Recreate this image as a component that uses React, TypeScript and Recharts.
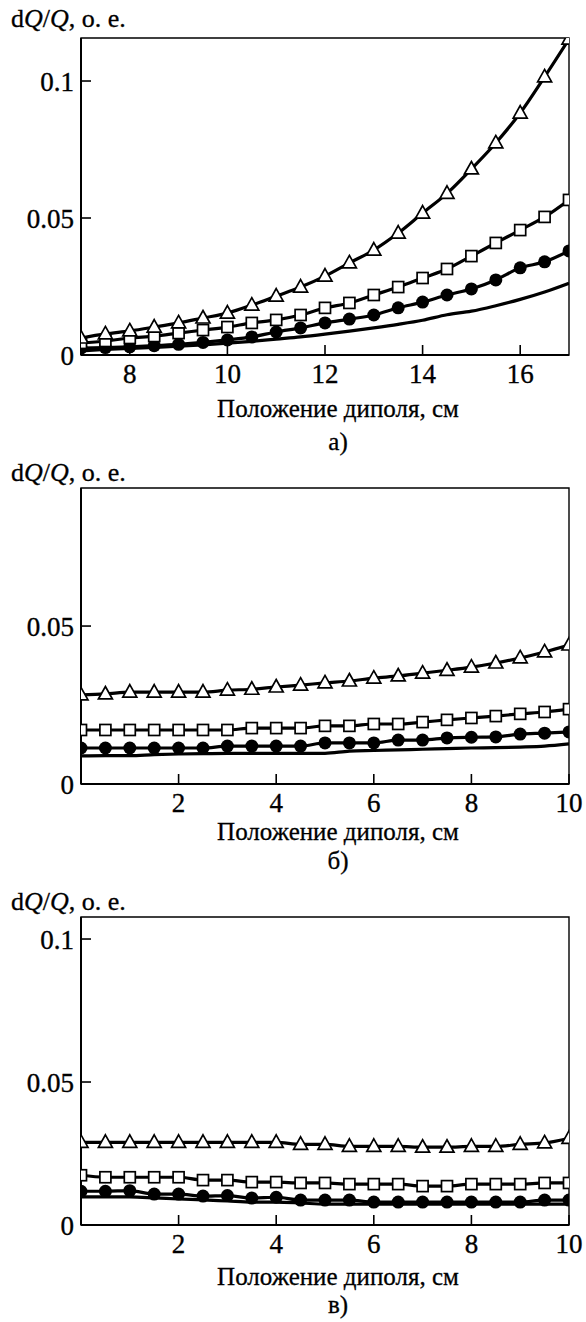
import React from 'react';
import { LineChart, Line, XAxis, YAxis, ReferenceArea } from 'recharts';

// dipole positions, cm
const X_A = [7, 7.5, 8, 8.5, 9, 9.5, 10, 10.5, 11, 11.5, 12, 12.5, 13, 13.5, 14, 14.5, 15, 15.5, 16, 16.5, 17];
const X_BC = [0, 0.5, 1, 1.5, 2, 2.5, 3, 3.5, 4, 4.5, 5, 5.5, 6, 6.5, 7, 7.5, 8, 8.5, 9, 9.5, 10];

// panel a)
const A_TRI = [0.0062, 0.0077, 0.0088, 0.0102, 0.0117, 0.0135, 0.0153, 0.0182, 0.0215, 0.0248, 0.0288, 0.0336, 0.0383, 0.0445, 0.0518, 0.059, 0.0679, 0.0774, 0.0883, 0.1015, 0.1153];
const A_SQ = [0.0044, 0.0051, 0.0062, 0.0069, 0.008, 0.0091, 0.0102, 0.0117, 0.0128, 0.0146, 0.0172, 0.019, 0.0219, 0.0248, 0.0281, 0.0314, 0.0361, 0.0409, 0.0456, 0.0504, 0.0566];
const A_DOT = [0.0025, 0.0027, 0.003, 0.0034, 0.0039, 0.0046, 0.0055, 0.0066, 0.0084, 0.0099, 0.0117, 0.0131, 0.0146, 0.0172, 0.0193, 0.0219, 0.0241, 0.0274, 0.0318, 0.034, 0.038];
const A_LINE = [0.0015, 0.002, 0.0024, 0.0028, 0.0032, 0.0037, 0.0043, 0.005, 0.0058, 0.0066, 0.0076, 0.0087, 0.0099, 0.0112, 0.0127, 0.0147, 0.016, 0.018, 0.0203, 0.023, 0.0262];

// panel б)
const B_TRI = [0.0282, 0.0285, 0.0291, 0.0291, 0.0291, 0.0291, 0.0297, 0.03, 0.0307, 0.0313, 0.032, 0.0326, 0.0335, 0.0342, 0.0351, 0.036, 0.037, 0.0383, 0.0399, 0.0418, 0.044];
const B_SQ = [0.0171, 0.0171, 0.0171, 0.0171, 0.0171, 0.0171, 0.0171, 0.0177, 0.0177, 0.0177, 0.0184, 0.0184, 0.019, 0.019, 0.0196, 0.0203, 0.0209, 0.0215, 0.0222, 0.0228, 0.0237];
const B_DOT = [0.0114, 0.0114, 0.0114, 0.0114, 0.0114, 0.0114, 0.012, 0.012, 0.012, 0.012, 0.013, 0.013, 0.013, 0.0139, 0.0139, 0.0146, 0.0148, 0.0149, 0.0158, 0.0161, 0.0165];
const B_LINE = [0.0089, 0.009, 0.009, 0.0093, 0.0095, 0.0096, 0.0097, 0.0097, 0.0097, 0.0097, 0.0097, 0.0104, 0.0106, 0.0108, 0.011, 0.0112, 0.0114, 0.0115, 0.0117, 0.012, 0.0127];

// panel в)
const C_TRI = [0.0289, 0.0289, 0.0289, 0.0289, 0.0289, 0.0289, 0.0289, 0.0289, 0.0289, 0.0282, 0.0282, 0.0275, 0.0275, 0.0275, 0.0272, 0.0272, 0.0275, 0.0275, 0.0282, 0.0287, 0.0303];
const C_SQ = [0.0174, 0.0167, 0.0167, 0.0167, 0.0167, 0.0157, 0.0157, 0.015, 0.015, 0.0147, 0.0147, 0.0143, 0.0143, 0.0143, 0.0136, 0.0136, 0.0143, 0.0143, 0.0143, 0.0147, 0.0147];
const C_DOT = [0.0118, 0.0118, 0.012, 0.0108, 0.0108, 0.0101, 0.0103, 0.0094, 0.0097, 0.0087, 0.0087, 0.0087, 0.008, 0.008, 0.008, 0.008, 0.008, 0.008, 0.008, 0.0087, 0.0087];
const C_LINE = [0.0098, 0.0098, 0.0098, 0.0095, 0.0091, 0.0088, 0.0084, 0.008, 0.008, 0.0077, 0.0073, 0.0073, 0.0073, 0.0073, 0.0073, 0.0073, 0.0073, 0.0073, 0.0073, 0.0073, 0.0073];

const FONT = 'Liberation Serif';
const W = 586;
const PLOT_LEFT = 81;
const PLOT_RIGHT = 569;

function rows(xs: number[], tri: number[], sq: number[], dot: number[], line: number[]) {
  return xs.map((x, i) => ({ x, tri: tri[i], sq: sq[i], dot: dot[i], line: line[i] }));
}

const triangle = (p: any) => (
  <path key={'t' + p.index} d={`M${p.cx},${p.cy - 7.5} L${p.cx + 7},${p.cy + 5} L${p.cx - 7},${p.cy + 5} Z`}
    fill="#fff" stroke="#000" strokeWidth={1.7} />
);
const square = (p: any) => (
  <rect key={'s' + p.index} x={p.cx - 5.5} y={p.cy - 5.5} width={11} height={11} fill="#fff" stroke="#000" strokeWidth={1.7} />
);
const disc = (p: any) => <circle key={'c' + p.index} cx={p.cx} cy={p.cy} r={6.5} fill="#000" />;

const labelText = { fontFamily: FONT, fontSize: 27, fill: '#000', stroke: '#000', strokeWidth: 0.35 };

function Panel(props: any) {
  const { top, plotTop, plotBottom, data, xDomain, xTicks, yMax, yTicks, titleY, axisTitleY, letterY, letter } = props;
  const H = 400;
  const XTick = (t: any) => (
    <g>
      <line x1={t.x} x2={t.x} y1={t.y} y2={t.y - 10} stroke="#000" strokeWidth={1.6} />
      <text x={t.x} y={t.y + 19} textAnchor="middle" dominantBaseline="central" style={labelText}>
        {t.payload.value}
      </text>
    </g>
  );
  const YTick = (t: any) => (
    <g>
      <line x1={PLOT_LEFT} x2={PLOT_LEFT + 10} y1={t.y} y2={t.y} stroke="#000" strokeWidth={1.6} />
      <text x={PLOT_LEFT - 7} y={t.y + 1} textAnchor="end" dominantBaseline="central" style={labelText}>
        {t.payload.value}
      </text>
    </g>
  );
  const textStyle: React.CSSProperties = {
    position: 'absolute', fontFamily: FONT, fontSize: 25, lineHeight: '28px', whiteSpace: 'nowrap',
    color: '#000', WebkitTextStroke: '0.3px #000',
  };
  return (
    <>
      <div style={{ ...textStyle, fontSize: 26, left: 11, top: titleY - 14 }}>
        d<i>Q</i>/<i>Q</i>, о. е.
      </div>
      <div style={{ position: 'absolute', left: 0, top }}>
        <LineChart width={W} height={H} data={data}
          margin={{ top: plotTop - top, right: W - PLOT_RIGHT, bottom: H - (plotBottom - top) - 30, left: 8 }}>
          <XAxis dataKey="x" type="number" domain={xDomain} ticks={xTicks} allowDataOverflow height={30}
            axisLine={{ stroke: '#000', strokeWidth: 2 }} tickLine={false} tickSize={0} tickMargin={0} tick={XTick} interval={0} />
          <YAxis type="number" domain={[0, yMax]} ticks={yTicks} allowDataOverflow width={PLOT_LEFT - 8}
            axisLine={{ stroke: '#000', strokeWidth: 2 }} tickLine={false} tickSize={0} tickMargin={0} tick={YTick} interval={0} />
          <ReferenceArea x1={xDomain[0]} x2={xDomain[1]} y1={0} y2={yMax} fill="none" stroke="#000" strokeWidth={1.4} />
          <Line dataKey="line" type="monotone" stroke="#000" strokeWidth={3.2} dot={false} isAnimationActive={false} />
          <Line dataKey="dot" type="monotone" stroke="#000" strokeWidth={3.2} dot={disc} isAnimationActive={false} />
          <Line dataKey="sq" type="monotone" stroke="#000" strokeWidth={3.2} dot={square} isAnimationActive={false} />
          <Line dataKey="tri" type="monotone" stroke="#000" strokeWidth={3.2} dot={triangle} isAnimationActive={false} />
        </LineChart>
      </div>
      <div style={{ ...textStyle, left: 338, top: axisTitleY - 14, transform: 'translateX(-50%)' }}>Положение диполя, см</div>
      <div style={{ ...textStyle, left: 338, top: letterY - 14, transform: 'translateX(-50%)' }}>{letter}</div>
    </>
  );
}

export default function App() {
  return (
    <div style={{ position: 'absolute', left: 0, top: 0, width: W, height: 1322, background: '#fff', overflow: 'hidden' }}>
      <Panel top={0} plotTop={38} plotBottom={355} data={rows(X_A, A_TRI, A_SQ, A_DOT, A_LINE)}
        xDomain={[7, 17]} xTicks={[8, 10, 12, 14, 16]} yMax={0.1157} yTicks={[0, 0.05, 0.1]}
        titleY={19} axisTitleY={409} letterY={442} letter="а)" />
      <Panel top={440} plotTop={488} plotBottom={784} data={rows(X_BC, B_TRI, B_SQ, B_DOT, B_LINE)}
        xDomain={[0, 10]} xTicks={[2, 4, 6, 8, 10]} yMax={0.0937} yTicks={[0, 0.05]}
        titleY={473} axisTitleY={832} letterY={861} letter="б)" />
      <Panel top={880} plotTop={917} plotBottom={1225} data={rows(X_BC, C_TRI, C_SQ, C_DOT, C_LINE)}
        xDomain={[0, 10]} xTicks={[2, 4, 6, 8, 10]} yMax={0.1077} yTicks={[0, 0.05, 0.1]}
        titleY={902} axisTitleY={1277} letterY={1305} letter="в)" />
    </div>
  );
}
